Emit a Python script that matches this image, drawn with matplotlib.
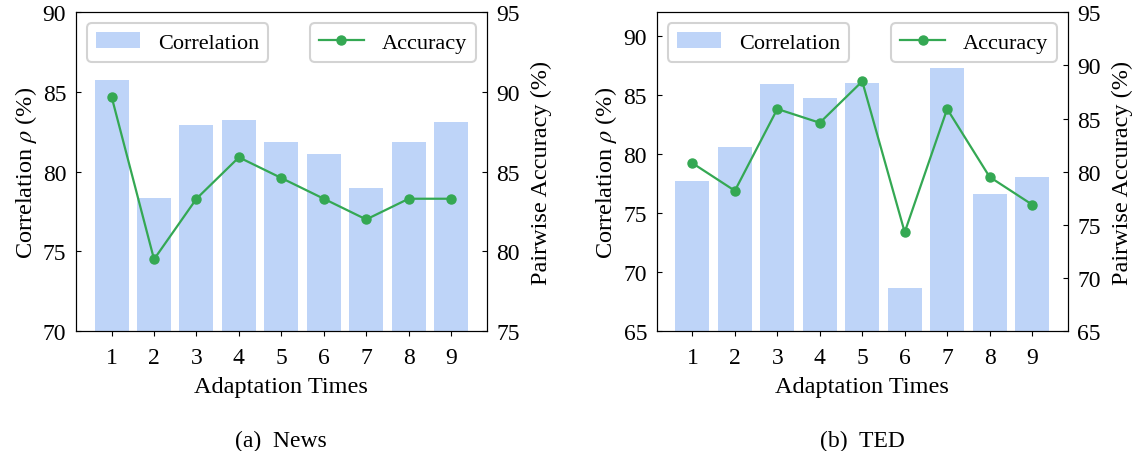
import matplotlib.pyplot as plt
import numpy as np

plt.rcParams['font.family'] = ['Liberation Serif', 'DejaVu Serif']
plt.rcParams['mathtext.fontset'] = 'stix'
plt.rcParams['font.size'] = 16
plt.rcParams['xtick.direction'] = 'out'
plt.rcParams['ytick.direction'] = 'in'
plt.rcParams['xtick.major.pad'] = 8
plt.rcParams['ytick.major.pad'] = 7
plt.rcParams['xtick.labelsize'] = 17
plt.rcParams['ytick.labelsize'] = 17
plt.rcParams['axes.labelsize'] = 17.5

times = [1, 2, 3, 4, 5, 6, 7, 8, 9]

# News
news_corr = [85.75, 78.35, 82.95, 83.25, 81.85, 81.1, 78.95, 81.85, 83.1]
news_acc = [89.7, 79.5, 83.3, 85.9, 84.6, 83.3, 82.0, 83.3, 83.3]

# TED
ted_corr = [77.7, 80.6, 85.9, 84.7, 86.0, 68.6, 87.3, 76.6, 78.05]
ted_acc = [80.8, 78.2, 85.9, 84.6, 88.5, 74.3, 85.9, 79.5, 76.9]

bar_color = '#bed4f8'
line_color = '#34a853'

fig = plt.figure(figsize=(11.37, 4.52), dpi=100)


def panel(pos, corr, acc, ylim1, yticks1, ylim2, yticks2, caption):
    ax = fig.add_axes(pos)
    ax.bar(times, corr, width=0.8, color=bar_color, label='Correlation')
    ax.set_ylim(*ylim1)
    ax.set_yticks(yticks1)
    ax.set_xticks(times)
    ax.set_xlabel('Adaptation Times', labelpad=6)
    ax.set_ylabel(r'Correlation $\rho$ (%)', labelpad=3)
    ax2 = ax.twinx()
    ax2.plot(times, acc, color=line_color, marker='o', markersize=6.5,
             linewidth=1.6, label='Accuracy')
    ax2.set_ylim(*ylim2)
    ax2.set_yticks(yticks2)
    ax2.set_ylabel('Pairwise Accuracy (%)', labelpad=8)
    for a, loc in ((ax, 'upper left'), (ax2, 'upper right')):
        leg = a.legend(loc=loc, fontsize=16, edgecolor='#c8c8c8')
        leg.get_frame().set_linewidth(1.5)
    cx = pos[0] + pos[2] / 2
    fig.text(cx, 0.012, caption, ha='center', va='baseline', fontsize=17)
    return ax, ax2


panel([0.0668, 0.2655, 0.3613, 0.7051], news_corr, news_acc,
      (70, 90), [70, 75, 80, 85, 90], (75, 95), [75, 80, 85, 90, 95],
      '(a)  News')
panel([0.5776, 0.2655, 0.3615, 0.7051], ted_corr, ted_acc,
      (65, 92), [65, 70, 75, 80, 85, 90], (65, 95), [65, 70, 75, 80, 85, 90, 95],
      '(b)  TED')

fig.savefig('out.png', dpi=100)
